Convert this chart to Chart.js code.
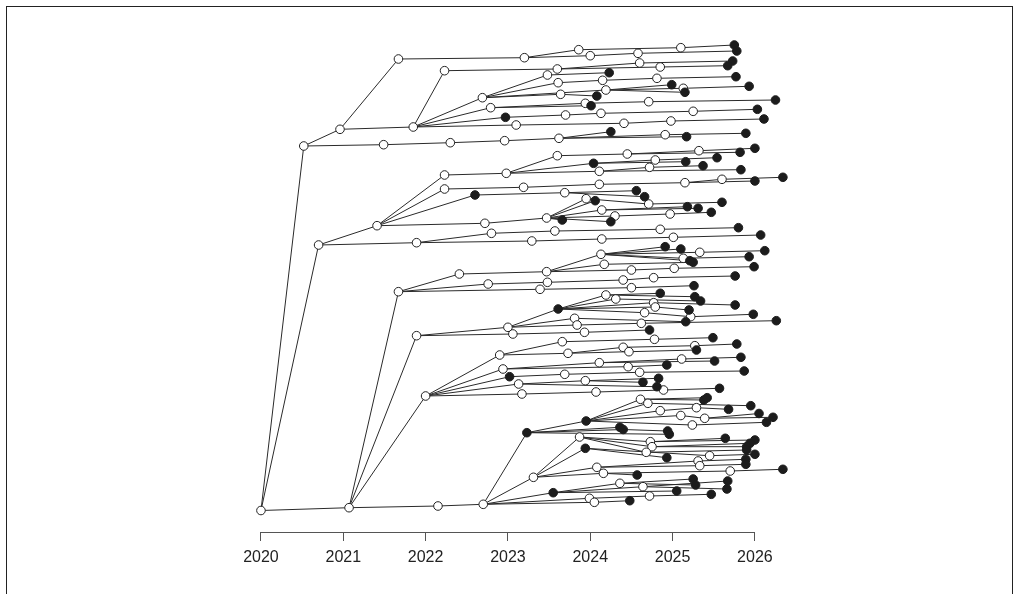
<!DOCTYPE html>
<html>
<head>
<meta charset="utf-8">
<script src="https://cdn.jsdelivr.net/npm/chart.js@4.4.0/dist/chart.umd.min.js"></script>
<style>
  html, body { margin: 0; padding: 0; background: #fff; }
  body { width: 1018px; height: 594px; position: relative; overflow: hidden; }
  .frame { position: absolute; left: 6px; top: 6px; width: 1007px; height: 640px; border: 1px solid #222; box-sizing: border-box; }
  #tree { position: absolute; left: 0; top: 0; }
</style>
</head>
<body>
<div class="frame"></div>
<canvas id="tree" width="1018" height="594"></canvas>
<script>
// axis ticks (years)
const yearTicks = [2020, 2021, 2022, 2023, 2024, 2025, 2026];

// tree nodes: time (year), vertical position, parent index (-1 = root)
const nodeYear = [
  2020.00, 2020.52, 2020.70, 2021.07, 2020.96, 2021.67, 2021.85, 2022.23, 2022.69, 2022.79,
  2022.97, 2023.10, 2023.20, 2023.86, 2025.10, 2025.75, 2024.00, 2024.58, 2025.78, 2023.60,
  2024.60, 2025.73, 2024.85, 2025.67, 2023.48, 2024.23, 2023.61, 2024.15, 2024.81, 2025.77,
  2023.64, 2024.08, 2024.19, 2024.99, 2025.13, 2025.93, 2025.15, 2023.94, 2024.71, 2026.25,
  2024.01, 2023.70, 2024.13, 2025.25, 2026.03, 2024.41, 2024.98, 2026.11, 2021.49, 2022.30,
  2022.96, 2023.62, 2024.25, 2024.91, 2025.89, 2025.17, 2021.41, 2022.23, 2022.98, 2022.23,
  2022.60, 2022.72, 2023.60, 2024.45, 2025.32, 2026.00, 2025.82, 2024.04, 2024.79, 2025.54,
  2025.16, 2024.11, 2024.72, 2025.37, 2025.83, 2023.19, 2024.11, 2025.15, 2025.60, 2026.34,
  2026.00, 2023.69, 2024.56, 2024.66, 2023.47, 2023.95, 2024.06, 2024.71, 2025.60, 2024.14,
  2025.18, 2025.31, 2025.47, 2023.66, 2024.30, 2024.97, 2024.25, 2021.89, 2022.80, 2023.57,
  2024.85, 2025.80, 2023.29, 2024.14, 2025.01, 2026.07, 2021.67, 2022.41, 2023.47, 2022.76,
  2024.13, 2024.91, 2025.10, 2025.33, 2026.12, 2025.13, 2025.93, 2025.21, 2024.17, 2025.25,
  2024.50, 2025.02, 2025.99, 2023.48, 2024.40, 2024.77, 2025.76, 2023.39, 2024.50, 2025.26,
  2021.89, 2023.00, 2023.06, 2023.61, 2024.19, 2024.85, 2025.27, 2024.31, 2025.34, 2024.77,
  2025.76, 2024.79, 2025.20, 2024.66, 2023.81, 2025.22, 2025.98, 2025.16, 2023.84, 2024.62,
  2026.26, 2023.93, 2024.72, 2022.00, 2022.90, 2022.94, 2023.02, 2023.13, 2023.17, 2023.66,
  2024.78, 2025.49, 2023.73, 2024.40, 2025.27, 2025.78, 2024.47, 2025.29, 2024.11, 2025.11,
  2025.83, 2025.51, 2024.46, 2024.93, 2023.69, 2024.60, 2025.87, 2023.94, 2024.64, 2024.83,
  2024.81, 2024.07, 2024.89, 2025.57, 2022.15, 2022.70, 2023.23, 2023.95, 2024.61, 2025.38,
  2025.42, 2024.70, 2025.95, 2024.85, 2025.29, 2025.68, 2025.10, 2025.39, 2026.05, 2026.22,
  2025.24, 2026.14, 2024.36, 2024.40, 2024.94, 2024.96, 2023.31, 2023.87, 2024.73, 2025.64,
  2026.00, 2024.75, 2025.94, 2025.90, 2024.68, 2025.90, 2023.94, 2024.93, 2025.45, 2026.00,
  2025.31, 2025.89, 2025.33, 2025.89, 2024.08, 2024.16, 2024.57, 2025.70, 2026.34, 2023.55,
  2024.36, 2025.25, 2025.28, 2024.64, 2025.67, 2025.66, 2025.05, 2023.99, 2024.72, 2025.47,
  2024.05, 2024.48
];

const nodePos = [
  -0.05, 36.4, 26.5, 0.23, 38.07, 45.1, 38.3, 43.93, 41.23, 40.23,
  39.27, 38.5, 45.23, 46.03, 46.23, 46.5, 45.43, 45.67, 45.9, 44.1,
  44.7, 44.9, 44.3, 44.43, 43.5, 43.73, 42.73, 42.97, 43.17, 43.33,
  41.57, 41.4, 42.0, 42.53, 42.17, 42.37, 41.77, 40.67, 40.83, 41.0,
  40.43, 39.5, 39.67, 39.87, 40.07, 38.67, 38.9, 39.1, 36.53, 36.73,
  36.93, 37.17, 37.83, 37.53, 37.67, 37.33, 28.43, 33.5, 33.67, 32.1,
  31.5, 28.67, 35.43, 35.6, 35.93, 36.17, 35.77, 34.67, 35.0, 35.23,
  34.83, 33.87, 34.27, 34.43, 34.03, 32.27, 32.57, 32.73, 33.07, 33.27,
  32.9, 31.73, 31.93, 31.33, 29.2, 31.13, 30.93, 30.6, 30.77, 30.0,
  30.33, 30.17, 29.77, 29.0, 29.4, 29.6, 28.83, 26.73, 27.67, 27.9,
  28.07, 28.23, 26.9, 27.1, 27.27, 27.5, 21.83, 23.6, 23.83, 22.6,
  25.57, 26.33, 26.1, 25.77, 25.93, 25.17, 25.33, 24.93, 24.57, 24.77,
  24.0, 24.17, 24.33, 22.77, 23.0, 23.23, 23.4, 22.07, 22.23, 22.43,
  17.43, 18.27, 17.6, 20.1, 21.5, 21.67, 21.33, 21.1, 20.9, 20.73,
  20.5, 20.3, 20.0, 19.73, 19.17, 19.33, 19.57, 18.83, 18.5, 18.67,
  18.93, 17.77, 18.0, 11.4, 15.5, 14.1, 13.33, 12.6, 11.6, 16.83,
  17.07, 17.23, 15.67, 16.27, 16.43, 16.6, 15.83, 16.0, 14.73, 15.1,
  15.27, 14.9, 14.33, 14.5, 13.57, 13.77, 13.9, 12.93, 12.77, 13.17,
  12.33, 11.8, 12.0, 12.17, 0.4, 0.57, 7.73, 8.9, 11.07, 11.0,
  11.23, 10.67, 10.43, 9.93, 10.23, 10.07, 9.45, 9.17, 9.65, 9.27,
  8.5, 8.77, 8.27, 8.05, 7.9, 7.57, 3.27, 7.3, 6.83, 7.17,
  7.0, 6.33, 6.67, 6.33, 5.77, 6.0, 6.17, 5.23, 5.43, 5.57,
  4.9, 5.07, 4.43, 4.57, 4.27, 3.67, 3.5, 3.9, 4.07, 1.73,
  2.67, 3.1, 2.5, 2.33, 2.9, 2.1, 1.9, 1.17, 1.4, 1.57,
  0.77, 0.93
];

const nodeParent = [
  -1, 0, 0, 0, 1, 4, 4, 6, 6, 6,
  6, 6, 5, 12, 13, 14, 12, 16, 17, 7,
  19, 20, 19, 22, 8, 24, 8, 26, 27, 28,
  8, 30, 8, 32, 32, 34, 32, 9, 37, 38,
  9, 10, 41, 42, 43, 11, 45, 46, 1, 48,
  49, 50, 51, 51, 53, 51, 2, 56, 57, 56,
  56, 56, 58, 62, 63, 64, 63, 58, 67, 68,
  67, 58, 71, 72, 71, 59, 75, 76, 77, 78,
  77, 60, 81, 81, 61, 84, 84, 85, 87, 84,
  89, 89, 95, 84, 84, 94, 84, 2, 97, 98,
  99, 100, 97, 102, 103, 104, 3, 106, 107, 106,
  108, 110, 110, 110, 113, 110, 115, 110, 108, 118,
  108, 120, 121, 109, 123, 124, 125, 106, 127, 128,
  3, 130, 130, 131, 133, 134, 134, 133, 137, 133,
  139, 133, 141, 133, 131, 143, 145, 144, 131, 148,
  149, 132, 151, 3, 153, 153, 153, 153, 153, 154,
  159, 160, 154, 162, 163, 164, 162, 166, 155, 168,
  169, 168, 155, 172, 156, 174, 175, 157, 177, 177,
  157, 158, 181, 182, 3, 184, 185, 186, 187, 188,
  188, 187, 191, 187, 193, 194, 187, 196, 197, 197,
  187, 200, 186, 186, 203, 186, 185, 206, 207, 208,
  208, 207, 211, 211, 207, 214, 206, 216, 216, 218,
  224, 220, 224, 222, 206, 206, 225, 225, 227, 185,
  229, 230, 230, 229, 233, 233, 229, 185, 237, 238,
  185, 240
];

// nodes drawn as filled (sampled) circles
const sampledNodes = [
  10, 15, 18, 21, 23, 25, 29, 31, 33, 35, 36, 39, 40, 44, 47, 52, 54, 55, 60, 65,
  66, 67, 69, 70, 73, 74, 79, 80, 82, 83, 86, 88, 90, 91, 92, 93, 96, 101, 105, 111,
  112, 114, 116, 117, 119, 122, 126, 129, 133, 135, 136, 138, 140, 142, 146, 147, 150, 152, 156, 161,
  165, 167, 170, 171, 173, 176, 178, 179, 180, 183, 186, 187, 189, 190, 192, 195, 198, 199, 201, 202,
  203, 204, 205, 209, 210, 212, 213, 215, 216, 217, 219, 221, 223, 226, 228, 229, 231, 232, 234, 235,
  236, 239, 241
];

const edges = [];
nodeParent.forEach((p, i) => {
  if (p < 0) return;
  edges.push({ x: nodeYear[p], y: nodePos[p] });
  edges.push({ x: nodeYear[i], y: nodePos[i] });
  edges.push({ x: nodeYear[i], y: null });
});

const openPts = [];
const filledPts = [];
nodeYear.forEach((yr, i) => {
  const pt = { x: yr, y: nodePos[i] };
  if (sampledNodes.includes(i)) filledPts.push(pt);
  else openPts.push(pt);
});

// axis line only from first to last tick, like base R
const axisLine = {
  id: 'axisLine',
  afterDraw(chart) {
    const xs = chart.scales.x;
    const ctx = chart.ctx;
    ctx.save();
    ctx.strokeStyle = '#555';
    ctx.lineWidth = 1;
    ctx.beginPath();
    ctx.moveTo(xs.getPixelForValue(yearTicks[0]), xs.top + 0.5);
    ctx.lineTo(xs.getPixelForValue(yearTicks[yearTicks.length - 1]), xs.top + 0.5);
    ctx.stroke();
    ctx.restore();
  }
};

new Chart(document.getElementById('tree'), {
  type: 'line',
  data: {
    datasets: [
      {
        type: 'scatter',
        data: filledPts,
        pointRadius: 4.3,
        pointBackgroundColor: '#1c1c1c',
        pointBorderColor: '#1c1c1c',
        pointBorderWidth: 1,
        order: 1
      },
      {
        type: 'scatter',
        data: openPts,
        pointRadius: 4.3,
        pointBackgroundColor: '#ffffff',
        pointBorderColor: '#222',
        pointBorderWidth: 1,
        order: 1
      },
      {
        type: 'line',
        data: edges,
        borderColor: '#2a2a2a',
        borderWidth: 1,
        pointRadius: 0,
        spanGaps: false,
        tension: 0,
        order: 3
      }
    ]
  },
  options: {
    responsive: false,
    animation: false,
    events: [],
    layout: { padding: { left: 219.8, right: 213.7, top: 30, bottom: 0 } },
    plugins: { legend: { display: false }, tooltip: { enabled: false } },
    scales: {
      x: {
        type: 'linear',
        min: 2019.5,
        max: 2026.6,
        afterBuildTicks: s => { s.ticks = yearTicks.map(v => ({ value: v })); },
        afterFit: s => { s.height = 62; },
        grid: { drawOnChartArea: false, drawTicks: true, tickLength: 9, color: '#555', lineWidth: 1 },
        border: { display: false },
        ticks: {
          callback: v => String(v),
          autoSkip: false,
          maxRotation: 0,
          padding: 7,
          color: '#222',
          font: { family: "'Liberation Sans', Arial, sans-serif", size: 16 }
        }
      },
      y: {
        type: 'linear',
        display: false,
        min: -2.2,
        max: 48
      }
    }
  },
  plugins: [axisLine]
});
</script>
</body>
</html>
